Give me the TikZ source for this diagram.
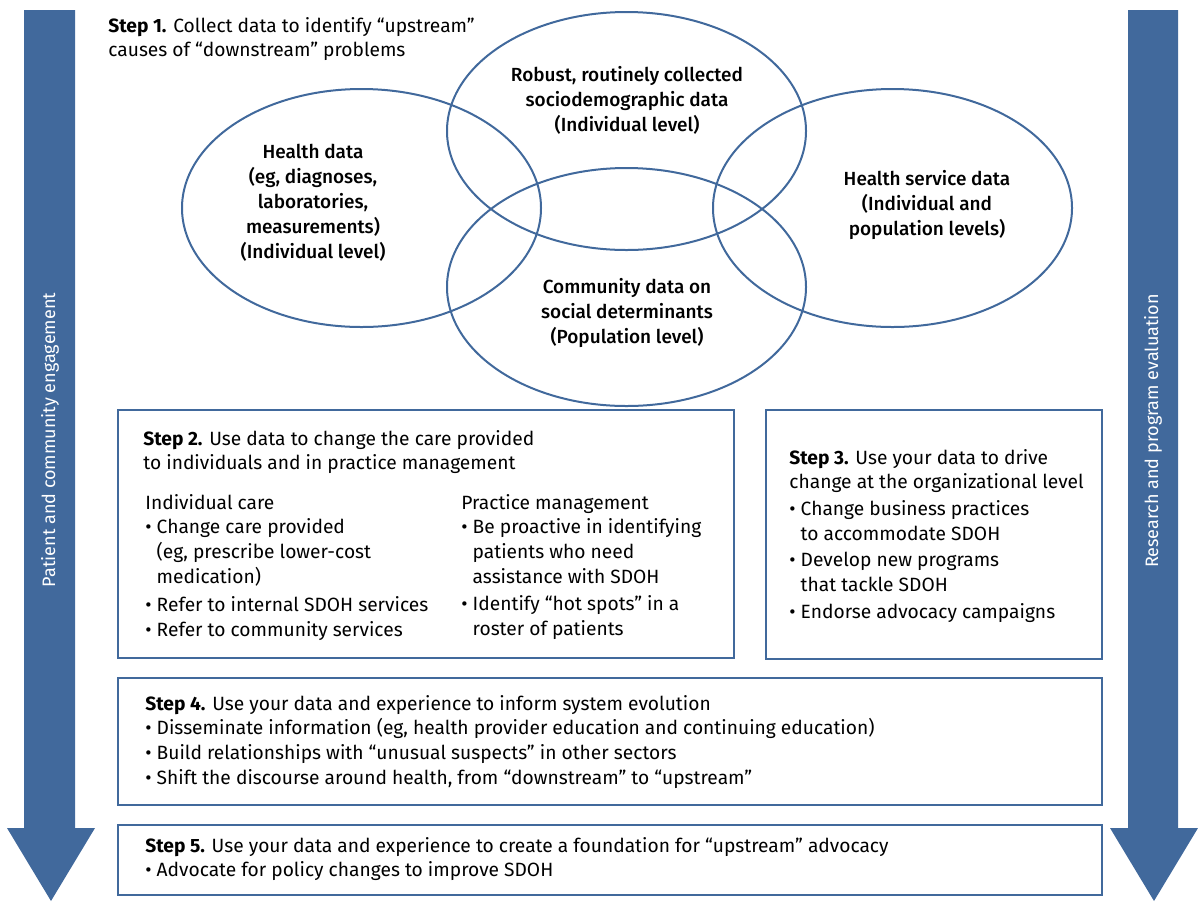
\documentclass[tikz,border=0pt]{standalone}
\usepackage{fontspec}
\setmainfont{Fira Sans}
\newfontfamily\medfont{Fira Sans Medium}
\usetikzlibrary{shapes.geometric}
\usetikzlibrary{positioning}
\definecolor{sdohblue}{HTML}{41699C}
\newcommand{\blt}{\textbullet\ }
\newcommand{\ind}{\hphantom{\textbullet\ }}

\begin{document}
\begin{tikzpicture}[
        x=0.5pt, y=-0.5pt,
        venn/.style={ellipse, draw=sdohblue, line width=1pt, minimum width=179.5pt, minimum height=119pt, inner sep=0},
        stepbox/.style={draw=sdohblue, line width=1.2pt, anchor=north west, inner sep=0},
        vlabel/.style={font=\medfont\fontsize{9.5}{12.5}\selectfont, align=center},
        blabel/.style={font=\fontsize{9.6}{12.3}\selectfont, align=left, anchor=north west, inner sep=0},
        sidelabel/.style={text=white, rotate=90, font=\fontsize{9}{11}\selectfont}
    ]
        \useasboundingbox (0,0) rectangle (1198,901);

        % 两侧箭头
        \fill[sdohblue] (24,10) -- (75,10) -- (75,828) -- (95,828) -- (51,901) -- (7,828) -- (24,828) -- cycle;
        \fill[sdohblue] (1128,10) -- (1178,10) -- (1178,828) -- (1198,828) -- (1154,901) -- (1110,828) -- (1128,828) -- cycle;
        \node[sidelabel] (engage) at (50,440) {Patient and community engagement};
        \node[sidelabel] (research) at (1153,431) {Research and program evaluation};

        % 第1步:椭圆
        \node[blabel] (step1) at (108,17) {\textbf{Step 1.} Collect data to identify “upstream”\\causes of “downstream” problems};
        \foreach \name/\x/\y in {health/361.5/208, socio/626.5/131, service/892.5/208, community/626.5/287} {
            \node[venn] (\name) at (\x,\y) {};
        }
        \node[vlabel] (healthtxt) at (313,203) {Health data\\(eg, diagnoses,\\laboratories,\\measurements)\\(Individual level)};
        \node[vlabel] (sociotxt) at (627,100) {Robust, routinely collected\\sociodemographic data\\(Individual level)};
        \node[vlabel] (servicetxt) at (927,205) {Health service data\\(Individual and\\population levels)};
        \node[vlabel] (communitytxt) at (627,313) {Community data on\\social determinants\\(Population level)};

        % 第2步 / 第3步
        \node[stepbox, minimum width=308pt, minimum height=124pt] (step2) at (117,409) {};
        \node[stepbox, minimum width=168pt, minimum height=124.5pt] (step3) at (765,409) {};
        \node[blabel] (step2txt) at (143,430) {\textbf{Step 2.} Use data to change the care provided\\to individuals and in practice management};
        \node[blabel] (indcare) at (145,494) {Individual care\\
            \blt Change care provided\\\ind (eg, prescribe lower-cost\\\ind medication)\\[2pt]
            \blt Refer to internal SDOH services\\
            \blt Refer to community services};
        \node[blabel] (practice) at (461,494) {Practice management\\
            \blt Be proactive in identifying\\\ind patients who need\\\ind assistance with SDOH\\[1.5pt]
            \blt Identify “hot spots” in a\\\ind roster of patients};
        \node[blabel] (step3txt) at (789,449) {\textbf{Step 3.} Use your data to drive\\change at the organizational level\\[1pt]
            \blt Change business practices\\\ind to accommodate SDOH\\[1pt]
            \blt Develop new programs\\\ind that tackle SDOH\\[1.5pt]
            \blt Endorse advocacy campaigns};

        % 第4步 / 第5步
        \node[stepbox, minimum width=492pt, minimum height=63.5pt] (step4) at (117,677) {};
        \node[stepbox, minimum width=492pt, minimum height=35pt] (step5) at (117,824) {};
        \node[blabel] (step4txt) at (145,695) {\textbf{Step 4.} Use your data and experience to inform system evolution\\
            \blt Disseminate information (eg, health provider education and continuing education)\\
            \blt Build relationships with “unusual suspects” in other sectors\\
            \blt Shift the discourse around health, from “downstream” to “upstream”};
        \node[blabel] (step5txt) at (145,837) {\textbf{Step 5.} Use your data and experience to create a foundation for “upstream” advocacy\\
            \blt Advocate for policy changes to improve SDOH};

    \end{tikzpicture}
\end{document}
